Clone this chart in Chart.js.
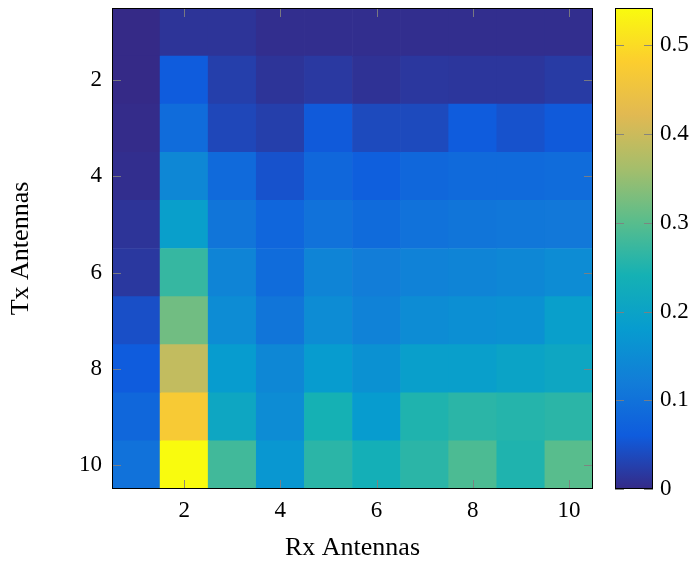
<!DOCTYPE html>
<html>
<head>
<meta charset="utf-8">
<script src="https://cdn.jsdelivr.net/npm/chart.js@4"></script>
<style>
  html, body { margin: 0; padding: 0; background: #fff; }
  #wrap { position: relative; width: 697px; height: 561px; }
  canvas { position: absolute; left: 0; top: 0; }
</style>
</head>
<body>
<div id="wrap">
  <canvas id="heatmap" width="697" height="561"></canvas>
  <canvas id="colorbar" width="697" height="561"></canvas>
</div>
<script>
// Rx antennas along x, Tx antennas along y (row 1 at the top)
const rxAntennas = [1, 2, 3, 4, 5, 6, 7, 8, 9, 10];
const txAntennas = [1, 2, 3, 4, 5, 6, 7, 8, 9, 10];
const xTicks = [2, 4, 6, 8, 10];
const yTicks = [2, 4, 6, 8, 10];
const colorbarTicks = [0, 0.1, 0.2, 0.3, 0.4, 0.5];
const colorMin = 0;
const colorMax = 0.542;

// one row per Tx antenna count, one value per Rx antenna count
const tx1  = [0.000, 0.012, 0.012, 0.005, 0.005, 0.005, 0.005, 0.005, 0.005, 0.005];
const tx2  = [0.000, 0.060, 0.025, 0.012, 0.018, 0.010, 0.016, 0.015, 0.015, 0.020];
const tx3  = [0.002, 0.090, 0.035, 0.025, 0.058, 0.038, 0.038, 0.060, 0.048, 0.058];
const tx4  = [0.005, 0.140, 0.085, 0.048, 0.080, 0.065, 0.080, 0.085, 0.085, 0.090];
const tx5  = [0.012, 0.190, 0.105, 0.078, 0.100, 0.087, 0.100, 0.105, 0.110, 0.112];
const tx6  = [0.017, 0.270, 0.135, 0.090, 0.135, 0.120, 0.130, 0.135, 0.140, 0.150];
const tx7  = [0.045, 0.320, 0.150, 0.105, 0.150, 0.130, 0.150, 0.155, 0.160, 0.190];
const tx8  = [0.060, 0.390, 0.180, 0.140, 0.180, 0.160, 0.190, 0.190, 0.200, 0.210];
const tx9  = [0.080, 0.470, 0.210, 0.150, 0.240, 0.180, 0.250, 0.260, 0.255, 0.260];
const tx10 = [0.100, 0.542, 0.280, 0.170, 0.260, 0.235, 0.260, 0.290, 0.250, 0.300];
const rows = [tx1, tx2, tx3, tx4, tx5, tx6, tx7, tx8, tx9, tx10];

// pgfplots parula
const parula = [
  [53, 42, 135], [15, 92, 221], [18, 125, 216], [7, 156, 207], [21, 177, 180],
  [89, 189, 140], [165, 190, 107], [225, 185, 82], [252, 206, 46], [249, 251, 14]
];

function parulaColor(v) {
  let t = (v - colorMin) / (colorMax - colorMin);
  t = Math.max(0, Math.min(1, t)) * (parula.length - 1);
  const i = Math.min(Math.floor(t), parula.length - 2);
  const f = t - i;
  const a = parula[i], b = parula[i + 1];
  const c = a.map((x, k) => Math.round(x + (b[k] - x) * f));
  return `rgb(${c[0]},${c[1]},${c[2]})`;
}

const serif = '"Liberation Serif", "Times New Roman", serif';
const tickFont = { family: serif, size: 23 };
const titleFont = { family: serif, size: 26, lineHeight: 1 };

// no extra room for half labels at the ends, the frame is fixed
function noEndPadding(s) {
  s.paddingTop = 0; s.paddingBottom = 0;
  s.paddingLeft = 0; s.paddingRight = 0;
}

// short grey ticks drawn inside the frame, plus the black frame
const innerTicks = {
  id: 'innerTicks',
  afterDatasetsDraw(chart, args, opts) {
    const { ctx, chartArea: a } = chart;
    const len = opts.length || 9;
    ctx.save();
    ctx.strokeStyle = 'rgba(128,128,128,0.9)';
    ctx.lineWidth = 1;
    ctx.beginPath();
    if (opts.x) {
      const xs = chart.scales.x;
      opts.x.forEach(v => {
        const px = Math.round(xs.getPixelForValue(v)) + 0.5;
        ctx.moveTo(px, a.top); ctx.lineTo(px, a.top + len);
        ctx.moveTo(px, a.bottom); ctx.lineTo(px, a.bottom - len);
      });
    }
    if (opts.y) {
      const ys = chart.scales.y;
      opts.y.forEach(v => {
        const py = Math.round(ys.getPixelForValue(v)) + 0.5;
        ctx.moveTo(a.left, py); ctx.lineTo(a.left + len, py);
        ctx.moveTo(a.right, py); ctx.lineTo(a.right - len, py);
      });
    }
    ctx.stroke();
    ctx.strokeStyle = '#000';
    ctx.lineWidth = 1;
    ctx.strokeRect(Math.round(a.left) + 0.5, Math.round(a.top) + 0.5,
      Math.round(a.right - a.left) - 1, Math.round(a.bottom - a.top) - 1);
    ctx.restore();
  }
};

const cells = [];
const cellColors = [];
rows.forEach((row, r) => {
  row.forEach((v, c) => {
    const ty = txAntennas[r];
    cells.push({ x: rxAntennas[c], y: [ty - 0.5, ty + 0.5], v: v });
    cellColors.push(parulaColor(v));
  });
});

new Chart(document.getElementById('heatmap'), {
  type: 'bar',
  data: {
    datasets: [{
      data: cells,
      backgroundColor: cellColors,
      borderWidth: 0,
      barPercentage: 1,
      categoryPercentage: 1
    }]
  },
  options: {
    responsive: false,
    animation: false,
    layout: { padding: { top: 8, right: 104 } },
    plugins: {
      legend: { display: false },
      tooltip: { enabled: false },
      innerTicks: { x: xTicks, y: yTicks, length: 9 }
    },
    scales: {
      x: {
        type: 'linear',
        min: 0.5,
        max: 10.5,
        offset: false,
        grid: { display: false, drawTicks: false },
        border: { display: false },
        afterBuildTicks: s => { s.ticks = xTicks.map(v => ({ value: v })); },
        afterFit: s => { s.height = 72; noEndPadding(s); },
        ticks: { color: '#000', font: tickFont, padding: 8, maxRotation: 0 },
        title: { display: true, text: 'Rx Antennas', color: '#000', font: titleFont, padding: { top: 0, bottom: 0 } }
      },
      y: {
        type: 'linear',
        reverse: true,
        min: 0.5,
        max: 10.5,
        grid: { display: false, drawTicks: false },
        border: { display: false },
        afterBuildTicks: s => { s.ticks = yTicks.map(v => ({ value: v })); },
        afterFit: s => { s.width = 112; noEndPadding(s); },
        ticks: { color: '#000', font: tickFont, padding: 10 },
        title: { display: true, text: 'Tx Antennas', color: '#000', font: titleFont, padding: { top: 8, bottom: 0 } }
      }
    }
  },
  plugins: [innerTicks]
});

new Chart(document.getElementById('colorbar'), {
  type: 'bar',
  data: {
    labels: ['bar'],
    datasets: [{
      data: [[colorMin, colorMax]],
      borderWidth: 0,
      barPercentage: 1,
      categoryPercentage: 1,
      backgroundColor: (context) => {
        const { chart } = context;
        const a = chart.chartArea;
        if (!a) return parulaColor(0);
        const g = chart.ctx.createLinearGradient(0, a.bottom, 0, a.top);
        parula.forEach((c, i) => {
          g.addColorStop(i / (parula.length - 1), `rgb(${c[0]},${c[1]},${c[2]})`);
        });
        return g;
      }
    }]
  },
  options: {
    responsive: false,
    animation: false,
    layout: { padding: { top: 8, left: 615, bottom: 72 } },
    plugins: {
      legend: { display: false },
      tooltip: { enabled: false },
      innerTicks: { y: colorbarTicks, length: 9 }
    },
    scales: {
      x: { display: false },
      y: {
        position: 'right',
        min: colorMin,
        max: colorMax,
        grid: { display: false, drawTicks: false },
        border: { display: false },
        afterBuildTicks: s => { s.ticks = colorbarTicks.map(v => ({ value: v })); },
        afterFit: s => { s.width = 44; noEndPadding(s); },
        ticks: {
          color: '#000',
          font: tickFont,
          padding: 7,
          callback: v => (v === 0 ? '0' : v.toFixed(1))
        }
      }
    }
  },
  plugins: [innerTicks]
});
</script>
</body>
</html>
